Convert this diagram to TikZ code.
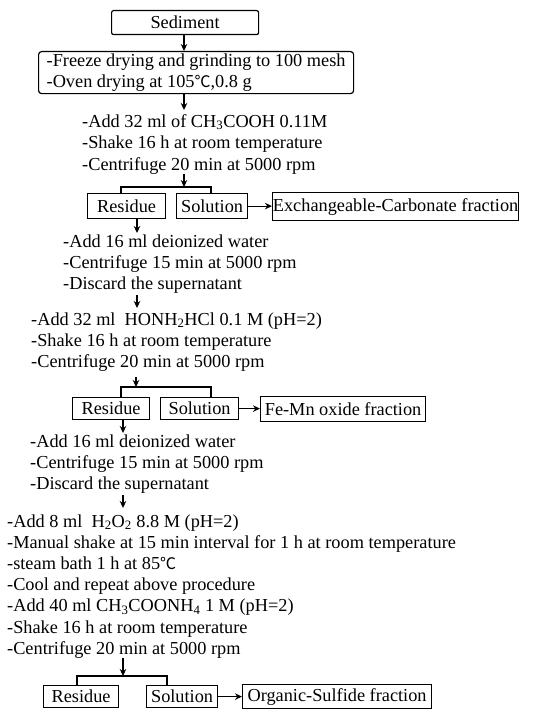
\documentclass[tikz,border=0pt]{standalone}
\usepackage{fontspec}
\setmainfont{Liberation Serif}
\newfontfamily\cjk{Noto Sans CJK SC}
\usetikzlibrary{arrows.meta}
\newcommand\degc{{\cjk\fontsize{16}{16}\selectfont ℃}}
\newcommand\sbs[1]{\textsubscript{#1}}
\begin{document}
\begin{tikzpicture}[x=1pt,y=-1pt,
  font=\fontsize{18.3}{20.5}\selectfont,
  box/.style={draw, line width=1.2pt, inner sep=0pt, anchor=north west},
  ln/.style={anchor=base west, inner sep=0pt},
  arr/.style={line width=1.2pt, -{Stealth[length=7pt,width=6.5pt]}},
  conn/.style={line width=1.2pt}]
\useasboundingbox[fill=white] (0,0) rectangle (537,709);
% boxes
\node[box, rounded corners=2pt, minimum width=147pt, minimum height=24pt] (sed) at (111,10) {Sediment};
\node[box, rounded corners=3pt, minimum width=315pt, minimum height=42pt, align=left] (prep) at (38,51)
  {-Freeze drying and grinding to 100 mesh\\-Oven drying at 105\degc,0.8 g};
% block 3
\node[ln] (a1) at (82,127) {-Add 32 ml of CH\sbs{3}COOH 0.11M};
\node[ln] (a2) at (82,148.5) {-Shake 16 h at room temperature};
\node[ln] (a3) at (82,170) {-Centrifuge 20 min at 5000 rpm};
\coordinate (pa) at (184,110);
\coordinate (sa) at (184,174);
\coordinate (ba) at (184,187);
\node[box, minimum width=78pt, minimum height=25pt] (res1) at (87,193) {Residue};
\node[box, minimum width=71pt, minimum height=25pt] (sol1) at (176,193) {Solution};
\node[box, minimum width=246pt, minimum height=28pt] (exc) at (272,192) {Exchangeable-Carbonate fraction};
% block 4
\node[ln] (b1) at (63,247) {-Add 16 ml deionized water};
\node[ln] (b2) at (63,268) {-Centrifuge 15 min at 5000 rpm};
\node[ln] (b3) at (63,289) {-Discard the supernatant};
\coordinate (rb) at (137,233);
\coordinate (sb) at (137,295);
\coordinate (eb) at (137,308);
% block 5
\node[ln] (c1) at (31,325) {-Add 32 ml \ HONH\sbs{2}HCl 0.1 M (pH=2)};
\node[ln] (c2) at (31,346) {-Shake 16 h at room temperature};
\node[ln] (c3) at (31,367) {-Centrifuge 20 min at 5000 rpm};
\coordinate (sc) at (136,377);
\coordinate (bc) at (136,387);
\node[box, minimum width=77pt, minimum height=22pt] (res2) at (72,397) {Residue};
\node[box, minimum width=78pt, minimum height=22pt] (sol2) at (160,397) {Solution};
\node[box, minimum width=165pt, minimum height=25pt] (fem) at (260,396) {Fe-Mn oxide fraction};
% block 6
\node[ln] (d1) at (30,447) {-Add 16 ml deionized water};
\node[ln] (d2) at (30,468) {-Centrifuge 15 min at 5000 rpm};
\node[ln] (d3) at (30,489) {-Discard the supernatant};
\coordinate (rd) at (123,433);
\coordinate (sd) at (123,495);
\coordinate (ed) at (123,508);
% block 7
\node[ln] (e1) at (7,527) {-Add 8 ml \ H\sbs{2}O\sbs{2} 8.8 M (pH=2)};
\node[ln] (e2) at (7,548) {-Manual shake at 15 min interval for 1 h at room temperature};
\node[ln] (e3) at (7,569.5) {-steam bath 1 h at 85\degc};
\node[ln] (e4) at (7,590.5) {-Cool and repeat above procedure};
\node[ln] (e5) at (7,611.5) {-Add 40 ml CH\sbs{3}COONH\sbs{4} 1 M (pH=2)};
\node[ln] (e6) at (7,633) {-Shake 16 h at room temperature};
\node[ln] (e7) at (7,654.5) {-Centrifuge 20 min at 5000 rpm};
\coordinate (se) at (123,658);
\coordinate (be) at (123,676);
\node[box, minimum width=75pt, minimum height=22pt] (res3) at (43,685) {Residue};
\node[box, minimum width=71pt, minimum height=22pt] (sol3) at (146,685) {Solution};
\node[box, minimum width=189pt, minimum height=24pt] (org) at (242,684) {Organic-Sulfide fraction};
% connectors
\draw[arr] (pa |- sed.south) -- (pa |- prep.north);
\draw[arr] (pa |- prep.south) -- (pa);
\draw[arr] (sa) -- (ba);
\draw[conn] (121,193) |- (ba) -| (211,193);
\draw[arr] (sol1.east) -- (exc.west |- sol1.east);
\draw[arr] (res1.south -| rb) -- (rb);
\draw[arr] (sb) -- (eb);
\draw[arr] (sc) -- (bc);
\draw[conn] (121,397) |- (bc) -| (211,397);
\draw[arr] (sol2.east) -- (fem.west |- sol2.east);
\draw[arr] (res2.south -| rd) -- (rd);
\draw[arr] (sd) -- (ed);
\draw[arr] (se) -- (be);
\draw[conn] (77,685) |- (be) -| (167,685);
\draw[arr] (sol3.east) -- (org.west |- sol3.east);
\end{tikzpicture}
\end{document}
